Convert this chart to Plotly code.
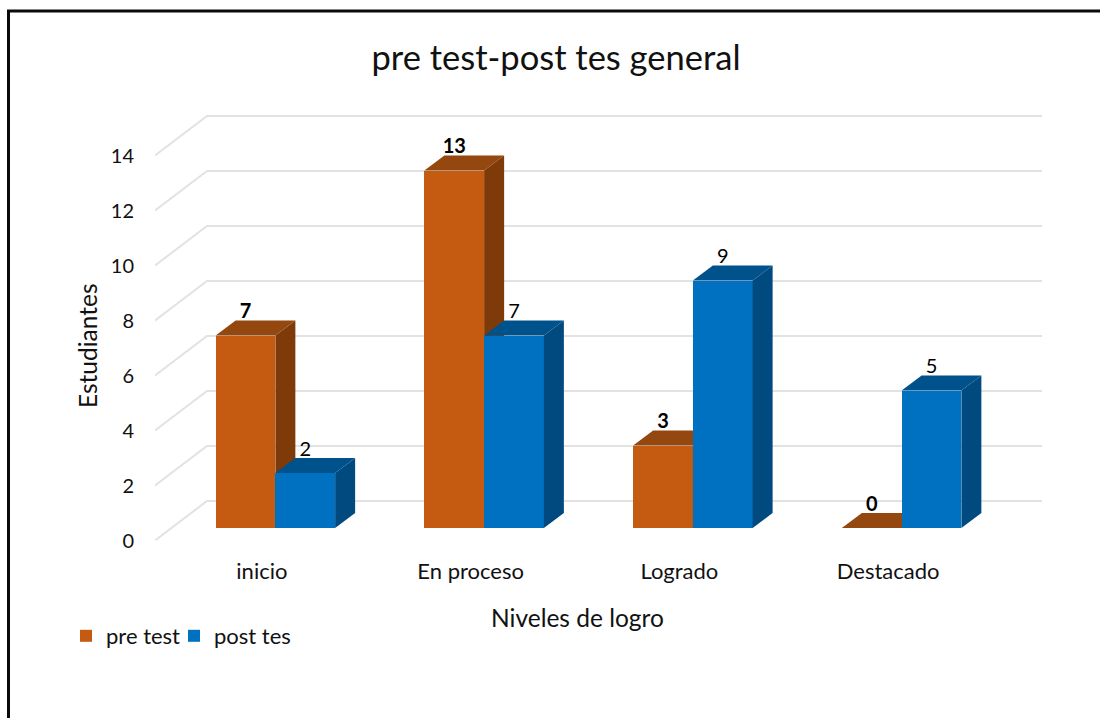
import plotly.graph_objects as go

categories = ["inicio", "En proceso", "Logrado", "Destacado"]
pre_test = [7, 13, 3, 0]
post_tes = [2, 7, 9, 5]
y_ticks = [0, 2, 4, 6, 8, 10, 12, 14]

W, H = 1100, 718
PX_X = 208.75      # pixels per category
PX_Y = 27.5        # pixels per value unit
L, R = 155, 1042   # plot area, px
B, T = 540.5, 100

# 3D projection, expressed in axis units
wall_dx = 52 / PX_X
wall_dy = 39.5 / PX_Y
bar_dx = 20 / PX_X
bar_dy = 15 / PX_Y
bar_base = 12.5 / PX_Y
bar_w = 59.75 / PX_X
shift = 16 / PX_X

FRONT = ["#C55A11", "#0070C0"]
SIDE = ["#7F3A0A", "#004A80"]
TOP = ["#94470F", "#00528C"]
TEXT = "#111111"

fig = go.Figure()

# floor/wall gridlines
for v in y_ticks:
    fig.add_trace(go.Scatter(
        x=[-0.5, -0.5 + wall_dx, 3.5 + wall_dx], y=[v, v + wall_dy, v + wall_dy],
        mode="lines", line=dict(color="#E2E2E2", width=2), cliponaxis=False,
        hoverinfo="skip", showlegend=False, zorder=0))

z = 1
for i in range(4):
    for s, (name, vals) in enumerate((("pre test", pre_test), ("post tes", post_tes))):
        v = vals[i]
        x0 = i + shift + (s - 1) * bar_w
        x1 = x0 + bar_w
        y0, y1 = bar_base, bar_base + v
        if v > 0:
            fig.add_trace(go.Bar(
                x=[x0 + bar_w / 2], y=[v], base=bar_base, width=bar_w,
                marker=dict(color=FRONT[s], line=dict(width=0)), name=name,
                legend="legend" if s == 0 else "legend2",
                legendgroup=name, showlegend=(i == 0), cliponaxis=False, zorder=z))
            z += 1
            fig.add_trace(go.Scatter(
                x=[x1, x1 + bar_dx, x1 + bar_dx, x1, x1],
                y=[y0, y0 + bar_dy, y1 + bar_dy, y1, y0],
                mode="lines", fill="toself", fillcolor=SIDE[s], line=dict(width=0),
                cliponaxis=False, hoverinfo="skip", showlegend=False, zorder=z))
            z += 1
        fig.add_trace(go.Scatter(
            x=[x0, x1, x1 + bar_dx, x0 + bar_dx, x0],
            y=[y1, y1, y1 + bar_dy, y1 + bar_dy, y1],
            mode="lines", fill="toself", fillcolor=TOP[s], line=dict(width=0),
            cliponaxis=False, hoverinfo="skip", showlegend=False, zorder=z))
        z += 1

# value labels
for s, vals in enumerate((pre_test, post_tes)):
    fig.add_trace(go.Scatter(
        x=[i + shift + (s - 1) * bar_w + bar_w / 2 for i in range(4)],
        y=[bar_base + v + bar_dy - 0.1 for v in vals],
        text=[str(v) for v in vals], mode="text", textposition="top center",
        textfont=dict(family="Lato", size=20, color="#000000",
                      weight="bold" if s == 0 else "normal"),
        cliponaxis=False, hoverinfo="skip", showlegend=False, zorder=z))
    z += 1

border = dict(type="path", xref="paper", yref="paper",
              path=f"M {8.5/W} 0 L {8.5/W} {1-11/H} L 1 {1-11/H}",
              line=dict(color="#0A0A0A", width=3))

axis_titles = [
    dict(text="Niveles de logro", x=577 / W, y=1 - 617 / H, textangle=0),
    dict(text="Estudiantes", x=87 / W, y=1 - 346 / H, textangle=-90),
]

legend_style = dict(orientation="h", xanchor="left", y=1 - 636 / H, yanchor="middle",
                    font=dict(family="Lato", size=22, color=TEXT),
                    itemwidth=30, bgcolor="rgba(0,0,0,0)")

fig.update_layout(
    width=W, height=H, margin=dict(l=0, r=0, t=0, b=0, pad=0, autoexpand=False),
    paper_bgcolor="white", plot_bgcolor="white",
    font=dict(family="Lato", size=20, color=TEXT),
    barmode="overlay", bargap=0,
    title=dict(text="pre test-post tes general", x=556 / W, xanchor="center",
               y=1 - 58 / H, yanchor="middle", yref="container",
               font=dict(family="Lato", size=34.5, color=TEXT)),
    xaxis=dict(domain=[L / W, R / W], range=[-0.5, -0.5 + (R - L) / PX_X],
               tickmode="array", tickvals=[0.012, 1.012, 2.012, 3.012], ticktext=categories,
               showgrid=False, zeroline=False, showline=False,
               ticks="outside", ticklen=11, tickcolor="rgba(0,0,0,0)",
               tickfont=dict(family="Lato", size=22, color=TEXT)),
    yaxis=dict(domain=[1 - B / H, 1 - T / H], range=[0, (B - T) / PX_Y],
               tickmode="array", tickvals=y_ticks,
               showgrid=False, zeroline=False, showline=False,
               ticks="outside", ticklen=16, tickcolor="rgba(0,0,0,0)",
               tickfont=dict(family="Lato", size=20, color=TEXT)),
    legend=dict(x=66 / W, **legend_style),
    legend2=dict(x=174 / W, **legend_style),
    shapes=[border],
    annotations=[dict(text=a["text"], x=a["x"], y=a["y"], xref="paper", yref="paper",
                      xanchor="center", yanchor="middle", textangle=a["textangle"],
                      showarrow=False, font=dict(family="Lato", size=24.5, color=TEXT))
                 for a in axis_titles],
)

fig.write_html("out.html", config=dict(displayModeBar=False),
               post_script="document.body.style.margin='0';document.documentElement.style.overflow='hidden';")
